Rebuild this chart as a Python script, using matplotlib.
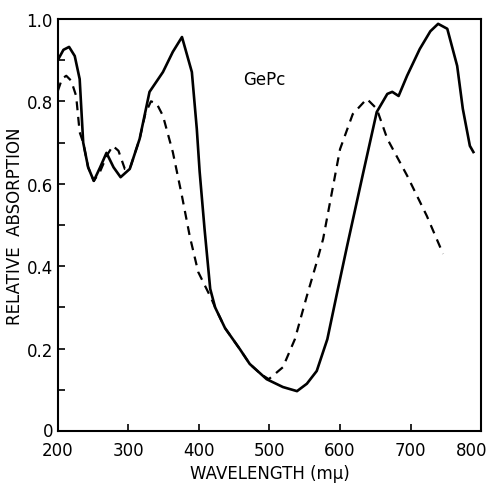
import numpy as np
import matplotlib.pyplot as plt
import matplotlib.transforms as mtransforms
from matplotlib.ticker import MultipleLocator

# solid curve
solid_wl = [200, 208, 216, 224, 231, 236, 243, 251, 260, 269, 279, 289, 302, 316,
            330, 349, 363, 376, 390, 397, 401, 408, 416, 423, 437, 458, 472, 496,
            519, 539, 553, 567, 582, 596, 610, 633, 652, 667, 674, 683, 695, 713,
            728, 739, 752, 766, 774, 784, 789]
solid_abs = [0.90, 0.925, 0.932, 0.91, 0.854, 0.70, 0.64, 0.607, 0.64, 0.675, 0.64,
             0.616, 0.636, 0.709, 0.823, 0.871, 0.92, 0.956, 0.871, 0.733, 0.63,
             0.49, 0.345, 0.30, 0.25, 0.199, 0.163, 0.126, 0.107, 0.097, 0.115,
             0.146, 0.223, 0.337, 0.449, 0.628, 0.774, 0.818, 0.823, 0.813, 0.862,
             0.927, 0.97, 0.988, 0.976, 0.886, 0.782, 0.692, 0.677]

# dashed curve
dash_wl = [200, 206, 212, 219, 226, 231, 236, 243, 251, 260, 270, 278, 286, 295,
           302, 316, 324, 332, 340, 349, 363, 376, 387, 399, 418, 423, 437, 458,
           472, 488, 499, 519, 536, 553, 567, 576, 600, 618, 638, 652, 667, 695,
           723, 746]
dash_abs = [0.825, 0.855, 0.862, 0.85, 0.813, 0.725, 0.70, 0.64, 0.607, 0.63,
            0.67, 0.692, 0.68, 0.636, 0.636, 0.709, 0.77, 0.80, 0.795, 0.765,
            0.677, 0.57, 0.473, 0.386, 0.32, 0.30, 0.25, 0.199, 0.163, 0.138,
            0.126, 0.155, 0.223, 0.328, 0.41, 0.466, 0.684, 0.769, 0.806, 0.782,
            0.709, 0.62, 0.522, 0.43]

x_ticks = [200, 300, 400, 500, 600, 700, 800]
y_ticks = [0, 0.2, 0.4, 0.6, 0.8, 1.0]
y_labels = ['0', '0.2', '0.4', '0.6', '0.8', '1.0']

plt.rcParams['font.family'] = 'DejaVu Sans'
fig = plt.figure(figsize=(4.94, 4.85), dpi=100)
ax = fig.add_axes([0.117, 0.109, 0.857, 0.850])

ax.plot(dash_wl, dash_abs, color='black', lw=1.6, ls=(0, (4, 3)), zorder=2)
ax.plot(solid_wl, solid_abs, color='black', lw=1.9, zorder=3)

ax.set_xlim(200, 800)
ax.set_ylim(0, 1.0)
ax.set_xticks(x_ticks)
ax.set_yticks(y_ticks)
ax.set_yticklabels(y_labels)
ax.yaxis.set_minor_locator(MultipleLocator(0.1))
ax.tick_params(direction='in', length=5, width=1.2, labelsize=12)
ax.tick_params(axis='x', pad=7)
ax.tick_params(which='minor', direction='in', length=5, width=1.2)
for s in ax.spines.values():
    s.set_linewidth(1.5)

# nudge edge labels like the original print
fig.canvas.draw()
xl = ax.get_xticklabels()
xl[-1].set_transform(xl[-1].get_transform() +
                     mtransforms.ScaledTranslation(-0.1, 0, fig.dpi_scale_trans))
yl = ax.get_yticklabels()
yl[0].set_transform(yl[0].get_transform() +
                    mtransforms.ScaledTranslation(0, 0.02, fig.dpi_scale_trans))

ax.set_xlabel('WAVELENGTH (m\u03bc)', fontsize=12, labelpad=4)
ax.set_ylabel('RELATIVE  ABSORPTION', fontsize=12, labelpad=2)
ax.text(462, 0.854, 'GePc', fontsize=12, va='center')

plt.savefig('out.png', dpi=100)
